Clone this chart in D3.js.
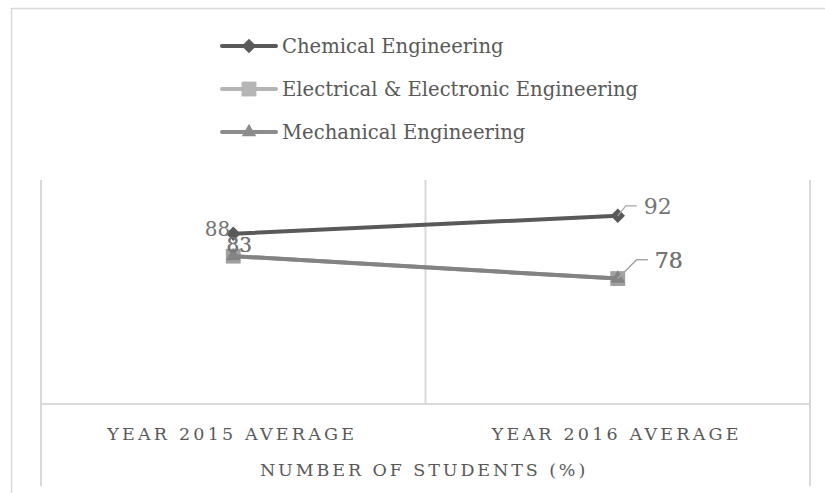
<!DOCTYPE html>
<html>
<head>
<meta charset="utf-8">
<script src="https://cdn.jsdelivr.net/npm/d3@7"></script>
<style>
  html, body { margin: 0; padding: 0; background: #fff; }
  svg { display: block; }
  text { font-family: "DejaVu Serif", "Liberation Serif", serif; }
</style>
</head>
<body>
<svg id="chart" width="825" height="493"></svg>
<script>
// Category labels on the horizontal axis
const categories = ["YEAR 2015 AVERAGE", "YEAR 2016 AVERAGE"];
// Series names and values (percentage of students)
const seriesNames = ["Chemical Engineering", "Electrical & Electronic Engineering", "Mechanical Engineering"];
const chemicalValues = [88, 92];
const electricalValues = [83, 78];
const mechanicalValues = [83, 78];
const axisTitle = "NUMBER OF STUDENTS (%)";

const seriesData = [
  { name: seriesNames[0], values: chemicalValues, color: "#595959", marker: "diamond", legendColor: "#595959" },
  { name: seriesNames[1], values: electricalValues, color: "#a0a0a0", marker: "square", legendColor: "#b5b5b5" },
  { name: seriesNames[2], values: mechanicalValues, color: "#838383", marker: "triangle", legendColor: "#8c8c8c" }
];

const svg = d3.select("#chart");
const plot = { left: 41, right: 810, top: 180, bottom: 404 };

const x = d3.scaleBand().domain(categories).range([plot.left, plot.right]).padding(0);
const cx = c => x(c) + x.bandwidth() / 2;
const y = d3.scaleLinear().domain([50, 100]).range([plot.bottom, plot.top]);

const gridColor = "#d9d9d9";

// Chart area border
svg.append("rect")
  .attr("x", 11.5).attr("y", 8.5)
  .attr("width", 900).attr("height", 600)
  .attr("fill", "none").attr("stroke", gridColor).attr("stroke-width", 1.5);

// Vertical category separators
const bounds = categories.map(c => x(c)).concat([plot.right]);
svg.append("g").selectAll("line").data(bounds).join("line")
  .attr("x1", d => d).attr("x2", d => d)
  .attr("y1", plot.top)
  .attr("y2", (d, i) => (i === 0 || i === bounds.length - 1) ? 486 : plot.bottom)
  .attr("stroke", gridColor).attr("stroke-width", 2);

// Horizontal axis line
svg.append("line")
  .attr("x1", plot.left).attr("x2", plot.right)
  .attr("y1", plot.bottom).attr("y2", plot.bottom)
  .attr("stroke", gridColor).attr("stroke-width", 2);

// Category labels
svg.append("g").selectAll("text").data(categories).join("text")
  .attr("x", d => cx(d) - 1).attr("y", 440)
  .attr("text-anchor", "middle")
  .attr("font-size", 17.5).attr("letter-spacing", 3.2)
  .attr("fill", "#595959")
  .text(d => d);

// Axis title
svg.append("text")
  .attr("x", 424).attr("y", 476)
  .attr("text-anchor", "middle")
  .attr("font-size", 17.5).attr("letter-spacing", 2.9)
  .attr("fill", "#595959")
  .text(axisTitle);

const symbolFor = m => m === "diamond" ? d3.symbol(d3.symbolDiamond2, 135)
  : m === "square" ? d3.symbol(d3.symbolSquare2, 280)
  : d3.symbol(d3.symbolTriangle2, 150);

// Lines and markers
const line = d3.line().x((d, i) => cx(categories[i])).y(d => y(d));
const drawOrder = [1, 2, 0];
drawOrder.forEach(si => {
  const s = seriesData[si];
  svg.append("path").datum(s.values)
    .attr("d", line).attr("fill", "none")
    .attr("stroke", s.color).attr("stroke-width", 4).attr("stroke-linecap", "round");
  svg.append("g").selectAll("path").data(s.values).join("path")
    .attr("transform", (d, i) => `translate(${cx(categories[i])},${y(d)})`)
    .attr("d", symbolFor(s.marker)())
    .attr("fill", s.color);
});

// Data labels
const labelColor = "#747474";
seriesData.forEach((s, si) => {
  s.values.forEach((v, i) => {
    const px = cx(categories[i]), py = y(v);
    if (i === 0) {
      const t = svg.append("text").attr("font-size", 20).attr("fill", labelColor).text(v);
      if (si === 0) t.attr("x", px - 3).attr("y", py + 2).attr("text-anchor", "end");
      else t.attr("x", px + 6).attr("y", py - 4).attr("text-anchor", "middle");
    } else {
      // leader line from the marker to the label
      const up = si === 0 ? 10 : 19;
      const dx = si === 0 ? 8 : 19;
      const ly = py - up;
      svg.append("path")
        .attr("d", `M${px},${py} L${px + dx},${ly} L${px + dx + 11},${ly}`)
        .attr("fill", "none").attr("stroke", "#a6a6a6").attr("stroke-width", 1.2);
      svg.append("text").attr("x", px + dx + 18).attr("y", ly + 8)
        .attr("font-size", 22).attr("fill", labelColor).text(v);
    }
  });
});

// Legend
const legend = svg.append("g");
const legendRows = [46, 89, 132];
seriesData.forEach((s, i) => {
  const g = legend.append("g").attr("transform", `translate(222,${legendRows[i]})`);
  g.append("line").attr("x1", 0).attr("x2", 54).attr("y1", 0).attr("y2", 0)
    .attr("stroke", s.legendColor).attr("stroke-width", 4).attr("stroke-linecap", "round");
  g.append("path").attr("transform", "translate(27,0)")
    .attr("d", symbolFor(s.marker)()).attr("fill", s.legendColor);
  g.append("text").attr("x", 60).attr("y", 7)
    .attr("font-size", 19.6).attr("fill", "#595959").text(s.name);
});
</script>
</body>
</html>
